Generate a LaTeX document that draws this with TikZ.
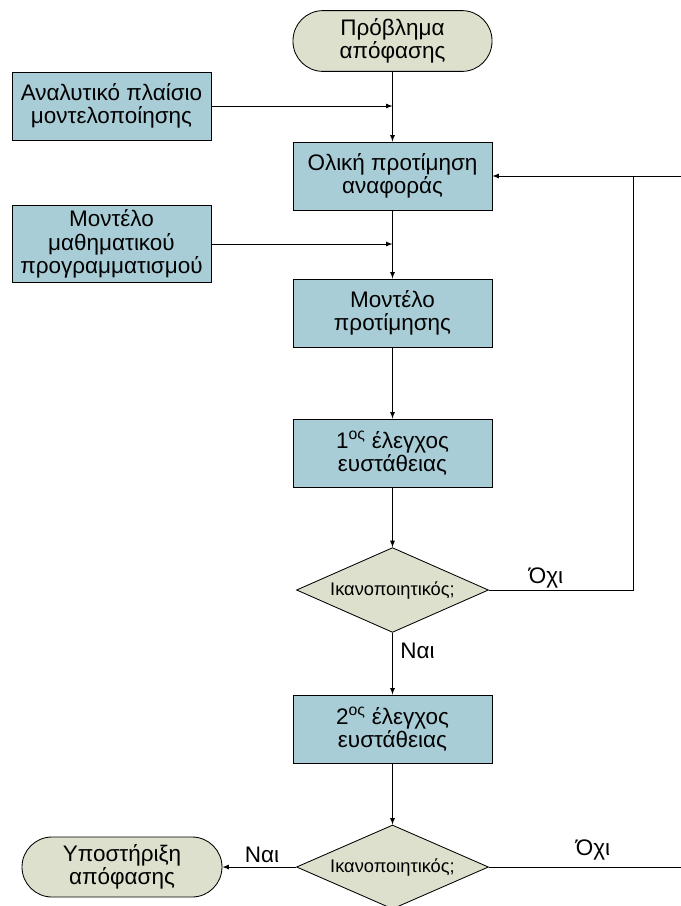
\documentclass[tikz,border=0pt]{standalone}
\usepackage{fontspec}
\setmainfont{Liberation Sans}
\usepackage{tikz}
\usetikzlibrary{shapes.geometric}
\usetikzlibrary{arrows}
\tikzset{>=latex}
\definecolor{boxfill}{RGB}{169,205,214}
\definecolor{termfill}{RGB}{221,224,204}
\tikzset{
    stepbox/.style={draw, fill=boxfill, semithick, minimum width=4.975cm, minimum height=1.7cm, align=center, font=\fontsize{16}{16.6}\selectfont},
    terminal/.style={draw, fill=termfill, semithick, rounded corners=0.75cm, minimum width=4.975cm, minimum height=1.52cm, align=center, font=\fontsize{16}{16.6}\selectfont},
    decision/.style={draw, fill=termfill, semithick, diamond, aspect=2.2, inner sep=0pt, minimum width=4.8cm, minimum height=2.12cm, font=\fontsize{13}{14}\selectfont},
    answer/.style={font=\fontsize{16}{16.6}\selectfont},
    line/.style={semithick}
}

\begin{document}
\begin{tikzpicture}
    \clip(0, 0)rectangle(17.025, -22.65);
    \node[terminal](start)at(9.8125, -1.025){Πρόβλημα\\απόφασης};
    \node[stepbox](frame)at(2.7875, -2.65){Αναλυτικό πλαίσιο\\μοντελοποίησης};
    \node[stepbox](ref)at(9.8125, -4.4){Ολική προτίμηση\\αναφοράς};
    \node[stepbox, minimum height=1.725cm](math)at(2.7875, -6.1){Μοντέλο\\μαθηματικού\\προγραμματισμού};
    \node[stepbox](model)at(9.8125, -7.825){Μοντέλο\\προτίμησης};
    \node[stepbox](test1)at(9.8125, -11.325){1\textsuperscript{ος} έλεγχος\\ευστάθειας};
    \node[decision](check1)at(9.8125, -14.75){Ικανοποιητικός;};
    \node[stepbox](test2)at(9.8125, -18.225){2\textsuperscript{ος} έλεγχος\\ευστάθειας};
    \node[decision, minimum height=2.1cm](check2)at(9.8125, -21.675){Ικανοποιητικός;};
    \node[terminal, minimum width=5cm, minimum height=1.5cm](support)at(3.05, -21.675){Υποστήριξη\\απόφασης};
    % joins and loop
    \coordinate(join1)at(9.8125, -2.65);
    \coordinate(join2)at(9.8125, -6.1);
    \coordinate(loop)at(15.825, -4.4);
    \coordinate(edgetop)at(17.025, -4.4);
    \coordinate(edgebot)at(17.025, -21.675);
    \draw[line, ->](start)--(ref);
    \draw[line, ->](frame)--(join1);
    \draw[line, ->](ref)--(model);
    \draw[line, ->](math)--(join2);
    \draw[line, ->](model)--(test1);
    \draw[line, ->](test1)--(check1);
    \draw[line, ->](check1)--(test2)node[answer, pos=0.3, right=2pt]{Ναι};
    \draw[line, ->](check1.east)-|(loop)--(ref.east);
    \draw[line](edgetop)--(loop);
    \node[answer](no1)at(13.65, -14.45){Όχι};
    \draw[line, ->](test2)--(check2);
    \draw[line, ->](check2.west)--(support.east);
    \node[answer](yes2)at(6.55, -21.375){Ναι};
    \draw[line](check2.east)--(edgebot);
    \node[answer](no2)at(14.825, -21.25){Όχι};
\end{tikzpicture}
\end{document}
